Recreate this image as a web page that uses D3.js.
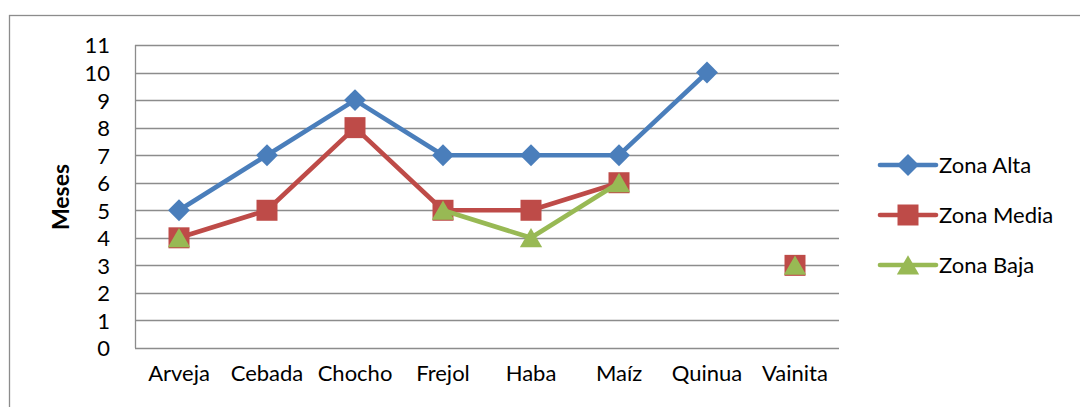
<!DOCTYPE html>
<html>
<head>
  <meta charset="utf-8">
  <script src="https://cdn.jsdelivr.net/npm/d3@7/dist/d3.min.js"></script>
  <style>
    body { margin: 0; background: #fff; }
    text { font-family: Lato, "Open Sans", sans-serif; fill: #000; }
    .grid line { stroke: #8c8c8c; stroke-width: 1.3; }
  </style>
</head>
<body>
<div id="chartArea"></div>
<script>
  // data
  var cultivos = ["Arveja", "Cebada", "Chocho", "Frejol", "Haba", "Maíz", "Quinua", "Vainita"];
  var zonaAlta  = [5, 7, 9, 7, 7, 7, 10, null];
  var zonaMedia = [4, 5, 8, 5, 5, 6, null, 3];
  var zonaBaja  = [4, null, null, 5, 4, 6, null, 3];
  var yTicks = [0, 1, 2, 3, 4, 5, 6, 7, 8, 9, 10, 11];
  var seriesNames = ["Zona Alta", "Zona Media", "Zona Baja"];

  var w = 1080, h = 407;
  var colors = ["#4a7ebb", "#be4b48", "#98b954"];

  // marker for series i, drawn at 0,0
  function marker(g, i) {
    if (i == 0) {
      g.append("path").attr("d", d3.symbol().type(d3.symbolSquare).size(240))
        .attr("transform", "rotate(45)").attr("fill", colors[i]);
    } else if (i == 1) {
      g.append("path").attr("d", d3.symbol().type(d3.symbolSquare).size(441))
        .attr("fill", colors[i]);
    } else {
      g.append("path").attr("d", d3.symbol().type(d3.symbolTriangle).size(215))
        .attr("transform", "translate(0,3)").attr("fill", colors[i]);
    }
  }

  var svg = d3.select("#chartArea").append("svg")
    .attr("width", w).attr("height", h);

  // outer chart border
  svg.append("rect")
    .attr("x", 9.5).attr("y", 15.5)
    .attr("width", 1100).attr("height", 420)
    .attr("fill", "none").attr("stroke", "#8c8c8c").attr("stroke-width", 1.3);

  var xScale = d3.scaleBand().domain(cultivos).range([135, 839]);
  var yScale = d3.scaleLinear().domain([0, 11]).range([348, 45]);

  // gridlines
  svg.append("g").attr("class", "grid")
    .selectAll("line").data(yTicks).enter().append("line")
    .attr("x1", 135).attr("x2", 839)
    .attr("y1", function(d) { return Math.round(yScale(d)) + 0.5; })
    .attr("y2", function(d) { return Math.round(yScale(d)) + 0.5; });

  svg.append("line")
    .attr("x1", 135.5).attr("x2", 135.5)
    .attr("y1", yScale(11)).attr("y2", yScale(0))
    .attr("stroke", "#8c8c8c").attr("stroke-width", 1.3);

  // y tick labels
  var yAxis = d3.axisLeft(yScale).tickValues(yTicks).tickSize(0).tickPadding(25);
  var gy = svg.append("g").attr("transform", "translate(135,0)").call(yAxis);
  gy.select(".domain").remove();
  gy.selectAll("text").style("font-size", "22px").style("font-family", "Lato").attr("dy", "0.36em");

  // x labels
  var xAxis = d3.axisBottom(xScale).tickSize(0).tickPadding(25);
  var gx = svg.append("g").attr("transform", "translate(0,348)").call(xAxis);
  gx.select(".domain").remove();
  gx.selectAll("text").style("font-size", "22px").style("font-family", "Lato").attr("dy", "0.36em");

  svg.append("text")
    .attr("transform", "translate(69,197) rotate(-90)")
    .attr("text-anchor", "middle")
    .style("font-size", "23px").style("font-weight", "bold")
    .text("Meses");

  var allSeries = [zonaAlta, zonaMedia, zonaBaja];

  allSeries.forEach(function(vals, i) {
    var pts = cultivos.map(function(c, j) { return { c: c, v: vals[j] }; });
    var line = d3.line()
      .defined(function(d) { return d.v != null; })
      .x(function(d) { return xScale(d.c) + xScale.bandwidth() / 2; })
      .y(function(d) { return yScale(d.v); });
    svg.append("path").datum(pts)
      .attr("d", line).attr("fill", "none")
      .attr("stroke", colors[i]).attr("stroke-width", 4.6)
      .attr("stroke-linejoin", "round");
    svg.append("g").selectAll("g")
      .data(pts.filter(function(d) { return d.v != null; }))
      .enter().append("g")
      .attr("transform", function(d) {
        return "translate(" + (xScale(d.c) + xScale.bandwidth() / 2) + "," + yScale(d.v) + ")";
      })
      .each(function() { marker(d3.select(this), i); });
  });

  // legend
  var legend = svg.append("g");
  seriesNames.forEach(function(name, i) {
    var ly = 165 + i * 50;
    legend.append("line")
      .attr("x1", 880).attr("x2", 936).attr("y1", ly).attr("y2", ly)
      .attr("stroke", colors[i]).attr("stroke-width", 4.6).attr("stroke-linecap", "round");
    marker(legend.append("g").attr("transform", "translate(908," + ly + ")"), i);
    legend.append("text")
      .attr("x", 939).attr("y", ly).attr("dy", "0.36em")
      .style("font-size", "22px")
      .text(name);
  });
</script>
</body>
</html>
